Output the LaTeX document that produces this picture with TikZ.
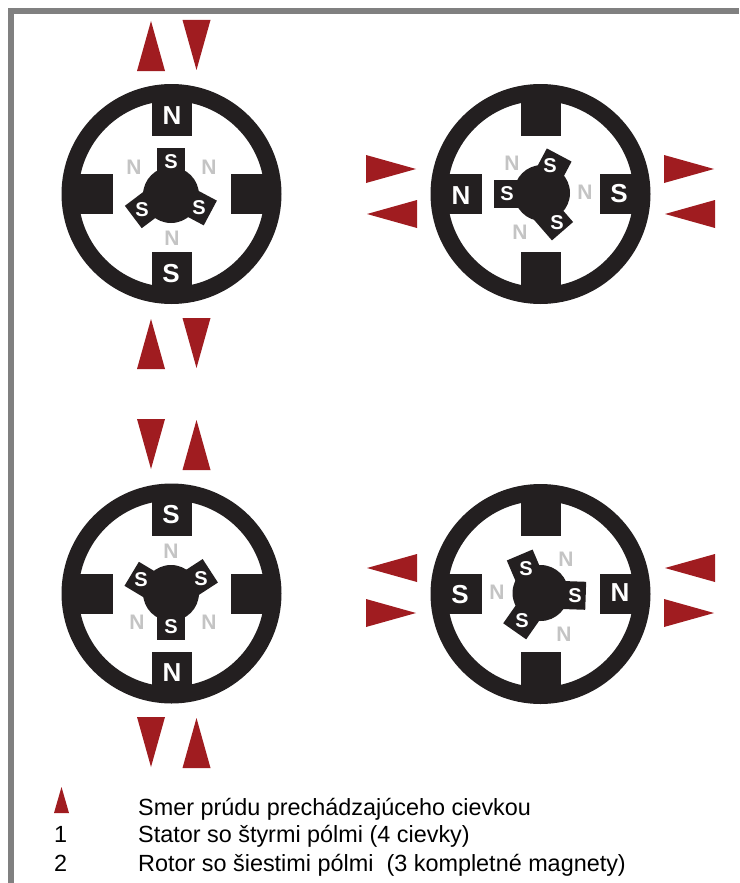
\documentclass[tikz,border=0pt]{standalone}
\usepackage{fontspec}
\setmainfont{Liberation Sans}
\definecolor{motor}{HTML}{231F20}
\definecolor{arrowred}{HTML}{A01C20}
\definecolor{frame}{HTML}{808080}
\definecolor{ghost}{HTML}{C4C4C4}
\tikzset{
  statorpole/.style={fill=motor,draw=none},
  bigpole/.style={text=white,font=\fontsize{26}{26}\selectfont\bfseries,inner sep=0pt},
  smallpole/.style={text=white,font=\fontsize{20}{20}\selectfont\bfseries,inner sep=0pt},
  ghostpole/.style={text=ghost,font=\fontsize{21}{21}\selectfont\bfseries,inner sep=0pt},
  legendtext/.style={anchor=base west,inner sep=0pt,font=\fontsize{23.4}{28}\selectfont},
  currentarrow/.style={fill=arrowred,draw=none}
}
\newcommand{\statorring}[2]{%
  \begin{scope}[shift={(#1,#2)}]
    \fill[motor,even odd rule] (0,0) circle[radius=110] (0,0) circle[radius=93];
    \fill[statorpole] (-20,-100) rectangle (20,-58);
    \fill[statorpole] (-20,100) rectangle (20,58);
    \fill[statorpole] (-100,-20) rectangle (-59,20);
    \fill[statorpole] (100,-20) rectangle (59,20);
  \end{scope}}
\newcommand{\rotorhub}[2]{\fill[motor] (#1,#2) circle[radius=28];}
% #1 #2 middle of the tooth's outer edge, #3 direction
\newcommand{\rotortooth}[3]{\fill[motor,shift={(#1,#2)},rotate=#3] (-32,-14) rectangle (0,14);}
\newcommand{\uptri}[3]{\fill[currentarrow] (#1-14,#3) -- (#1,#2) -- (#1+14,#3) -- cycle;}
\newcommand{\dntri}[3]{\fill[currentarrow] (#1-14,#2) -- (#1+14,#2) -- (#1,#3) -- cycle;}
\newcommand{\rttri}[3]{\fill[currentarrow] (#2,#1-14) -- (#3,#1) -- (#2,#1+14) -- cycle;}
\newcommand{\lftri}[3]{\fill[currentarrow] (#3,#1-14) -- (#2,#1) -- (#3,#1+14) -- cycle;}
\begin{document}
\begin{tikzpicture}[x=1pt,y=-1pt]
\useasboundingbox (0,0) rectangle (739,883);
\fill[white] (0,0) rectangle (739,883);
\fill[frame] (8,8) rectangle (739,14);
\fill[frame] (8,8) rectangle (14,883);

% motor 1
\statorring{171.5}{194}
\rotorhub{171}{195}
\rotortooth{171}{148.3}{90}
\rotortooth{133.3}{217}{217}
\rotortooth{210.3}{213}{-28}
\node[bigpole] (m1n) at (172,116) {N};
\node[bigpole] (m1s) at (171,274) {S};
\node[smallpole] (m1a) at (171,162) {S};
\node[smallpole] (m1b) at (142,210) {S};
\node[smallpole] (m1c) at (199,208) {S};
\node[ghostpole] (m1d) at (134,167) {N};
\node[ghostpole] (m1e) at (209,167) {N};
\node[ghostpole] (m1f) at (172,238) {N};
\uptri{151}{21}{71}\dntri{196.5}{20}{70}
\uptri{151}{319}{369}\dntri{196.5}{318}{368}

% motor 2
\statorring{540.5}{194}
\rotorhub{542}{193}
\rotortooth{494}{194.3}{180}
\rotortooth{559.2}{155}{62}
\rotortooth{562.5}{231.2}{-49}
\node[bigpole] (m2n) at (461,196) {N};
\node[bigpole] (m2s) at (619,194) {S};
\node[smallpole] (m2a) at (507,194) {S};
\node[smallpole] (m2b) at (550,166) {S};
\node[smallpole] (m2c) at (557,223) {S};
\node[ghostpole] (m2d) at (512,163) {N};
\node[ghostpole] (m2e) at (585,192) {N};
\node[ghostpole] (m2f) at (520,232) {N};
\rttri{169}{366}{416}\lftri{214}{367}{417}
\rttri{169}{664}{714}\lftri{214}{665}{715}

% motor 3
\statorring{171.5}{593.5}
\rotorhub{171}{593}
\rotortooth{171}{639.5}{270}
\rotortooth{131.7}{573.8}{149}
\rotortooth{210.3}{570.8}{33}
\node[bigpole] (m3s) at (171,515) {S};
\node[bigpole] (m3n) at (172,673) {N};
\node[smallpole] (m3a) at (171,627) {S};
\node[smallpole] (m3b) at (141,580) {S};
\node[smallpole] (m3c) at (201,579) {S};
\node[ghostpole] (m3d) at (171,551) {N};
\node[ghostpole] (m3e) at (137,622) {N};
\node[ghostpole] (m3f) at (209,622) {N};
\dntri{151}{419}{469}\uptri{196.5}{420}{470}
\dntri{151}{717}{767}\uptri{196.5}{718}{768}

% motor 4
\statorring{540.5}{594}
\rotorhub{540.5}{593}
\rotortooth{585.7}{595.8}{-2}
\rotortooth{519.7}{555}{113}
\rotortooth{514.7}{631.3}{235}
\node[bigpole] (m4s) at (460,595) {S};
\node[bigpole] (m4n) at (620,593) {N};
\node[smallpole] (m4a) at (575,596) {S};
\node[smallpole] (m4b) at (526,569) {S};
\node[smallpole] (m4c) at (522,621) {S};
\node[ghostpole] (m4d) at (497,592) {N};
\node[ghostpole] (m4e) at (566,559) {N};
\node[ghostpole] (m4f) at (564,634) {N};
\lftri{568}{367}{417}\rttri{613}{366}{416}
\lftri{568}{665}{715}\rttri{613}{664}{714}

% legend
\fill[currentarrow] (54,813) -- (61.5,787) -- (69,813) -- cycle;
\node[legendtext] (k1) at (138,815) {Smer prúdu prechádzajúceho cievkou};
\node[legendtext] (n1) at (54,842) {1};
\node[legendtext] (k2) at (138,842) {Stator so štyrmi pólmi (4 cievky)};
\node[legendtext] (n2) at (54,871) {2};
\node[legendtext] (k3) at (138,871) {Rotor so šiestimi pólmi\ \ (3 kompletné magnety)};
\end{tikzpicture}
\end{document}
